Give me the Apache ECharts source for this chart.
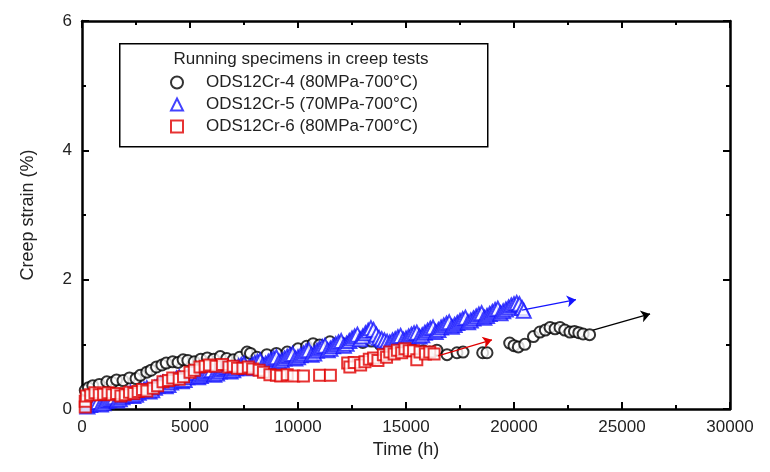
<!DOCTYPE html>
<html><head><meta charset="utf-8">
<script src="https://cdn.jsdelivr.net/npm/echarts@6/dist/echarts.min.js"></script>
<style>html,body{margin:0;padding:0;background:#fff}#c{width:770px;height:472px}</style>
</head><body><div id="c"></div>
<script>
// ---- data ----
const seriesNames = ['ODS12Cr-4 (80MPa-700°C)', 'ODS12Cr-5 (70MPa-700°C)', 'ODS12Cr-6 (80MPa-700°C)'];
const legendTitle = 'Running specimens in creep tests';
const xAxisName = 'Time (h)';
const yAxisName = 'Creep strain (%)';
const xRange = [0, 30000, 5000];
const yRange = [0, 6, 2];

// ODS12Cr-4 (black circles)
const ods4 = [
  [150,0.29],[300,0.33],[500,0.36],[800,0.38],[1150,0.42],[1400,0.41],[1600,0.45],[1900,0.44],
  [2200,0.48],[2500,0.47],[2700,0.52],[3000,0.57],[3200,0.60],[3450,0.65],[3700,0.68],[3900,0.71],
  [4200,0.73],[4450,0.72],[4680,0.76],[4900,0.75],[5200,0.73],[5500,0.77],[5800,0.79],[6100,0.77],
  [6400,0.81],[6700,0.78],[7000,0.76],[7300,0.80],[7640,0.88],[7800,0.86],[8100,0.80],[8560,0.84],
  [9000,0.86],[9500,0.88],[10000,0.93],[10400,0.97],[10700,1.01],[11000,0.99],[11480,1.04],[12000,1.02],
  [12500,1.05],[13000,1.03],[13400,1.05],[13800,1.00],[14300,0.98],[14800,0.95],[15300,0.92],[15800,0.90],
  [16100,0.88],[16430,0.91],[16900,0.84],[17360,0.87],[17640,0.88],[18550,0.87],[18750,0.87],[19800,1.02],
  [20000,0.98],[20200,0.96],[20500,1.00],[20900,1.12],[21200,1.19],[21450,1.22],[21670,1.26],[21900,1.24],
  [22130,1.26],[22350,1.22],[22590,1.19],[22800,1.20],[23000,1.18],[23200,1.16],[23500,1.15]
];
// ODS12Cr-5 (blue triangles)
const ods5 = [
  [250,0.04],[375,0.06],[500,0.08],[625,0.10],[750,0.11],[875,0.07],[1000,0.09],[1125,0.12],
  [1250,0.14],[1375,0.16],[1500,0.18],[1625,0.13],[1750,0.15],[1875,0.18],[2000,0.21],[2125,0.23],
  [2250,0.25],[2375,0.20],[2500,0.22],[2625,0.25],[2750,0.28],[2875,0.30],[3000,0.32],[3125,0.27],
  [3250,0.29],[3375,0.33],[3500,0.36],[3625,0.39],[3750,0.41],[3875,0.35],[4000,0.37],[4125,0.41],
  [4250,0.44],[4375,0.47],[4500,0.49],[4625,0.43],[4750,0.45],[4875,0.49],[5000,0.52],[5125,0.55],
  [5250,0.56],[5375,0.49],[5500,0.51],[5625,0.54],[5750,0.57],[5875,0.59],[6000,0.60],[6125,0.53],
  [6250,0.55],[6375,0.58],[6500,0.61],[6625,0.63],[6750,0.65],[6875,0.58],[7000,0.60],[7125,0.63],
  [7250,0.66],[7375,0.68],[7500,0.70],[7625,0.63],[7750,0.65],[7875,0.68],[8000,0.71],[8125,0.73],
  [8250,0.75],[8375,0.68],[8500,0.70],[8625,0.73],[8750,0.76],[8875,0.78],[9000,0.80],[9125,0.73],
  [9250,0.75],[9375,0.78],[9500,0.81],[9625,0.83],[9750,0.85],[9875,0.78],[10000,0.80],[10125,0.83],
  [10250,0.86],[10375,0.89],[10500,0.91],[10625,0.84],[10750,0.86],[10875,0.90],[11000,0.93],[11125,0.96],
  [11250,0.98],[11375,0.91],[11500,0.93],[11625,0.97],[11750,1.00],[11875,1.03],[12000,1.05],[12125,0.98],
  [12250,1.01],[12375,1.05],[12500,1.09],[12625,1.12],[12750,1.15],[12875,1.08],[13000,1.12],[13125,1.17],
  [13250,1.21],[13375,1.25],[13500,1.22],[13625,1.15],[13750,1.10],[13875,1.08],[14000,1.06],[14125,1.04],
  [14250,1.03],[14375,1.06],[14500,1.08],[14625,1.11],[14750,1.13],[14875,1.07],[15000,1.09],[15125,1.12],
  [15250,1.15],[15375,1.17],[15500,1.18],[15625,1.12],[15750,1.14],[15875,1.18],[16000,1.21],[16125,1.24],
  [16250,1.26],[16375,1.19],[16500,1.22],[16625,1.26],[16750,1.29],[16875,1.32],[17000,1.34],[17125,1.27],
  [17250,1.30],[17375,1.33],[17500,1.36],[17625,1.39],[17750,1.41],[17875,1.34],[18000,1.37],[18125,1.40],
  [18250,1.43],[18375,1.46],[18500,1.48],[18625,1.41],[18750,1.44],[18875,1.47],[19000,1.50],[19125,1.53],
  [19250,1.55],[19375,1.48],[19500,1.51],[19625,1.54],[19750,1.57],[19875,1.60],[20000,1.62],[20125,1.64],
  [20250,1.62],[20375,1.56],[20450,1.52]
];
// ODS12Cr-6 (red squares)
const ods6 = [
  [150,0.03],[150,0.12],[200,0.20],[400,0.22],[600,0.25],[800,0.22],[1000,0.23],[1200,0.25],
  [1400,0.22],[1600,0.24],[1800,0.20],[2000,0.22],[2200,0.26],[2400,0.24],[2600,0.27],[2800,0.30],
  [3000,0.28],[3300,0.32],[3500,0.36],[3750,0.42],[4000,0.44],[4200,0.48],[4500,0.46],[4700,0.50],
  [5000,0.57],[5200,0.60],[5460,0.65],[5700,0.66],[5900,0.68],[6200,0.66],[6500,0.69],[6800,0.65],
  [7000,0.66],[7200,0.63],[7450,0.63],[7700,0.65],[7900,0.62],[8200,0.60],[8400,0.57],[8700,0.53],
  [9000,0.52],[9200,0.51],[9500,0.53],[9800,0.51],[10250,0.51],[11000,0.52],[11500,0.52],[12300,0.71],
  [12400,0.65],[12600,0.72],[12900,0.68],[13100,0.73],[13300,0.77],[13500,0.79],[13700,0.75],[13950,0.84],
  [14100,0.80],[14250,0.88],[14450,0.85],[14600,0.91],[14800,0.87],[14950,0.93],[15150,0.90],[15350,0.90],
  [15500,0.76],[15650,0.88],[15900,0.85],[16100,0.88],[16300,0.85]
];
// extrapolation arrows [start, end]
const arrow4 = [[23660,1.22],[26300,1.47]];
const arrow5 = [[20370,1.53],[22870,1.69]];
const arrow6 = [[16480,0.82],[18980,1.07]];

const colors = ['#000000', '#1414ff', '#e00000'];
const FONT = 'Liberation Sans, Arial, sans-serif';

const chart = echarts.init(document.getElementById('c'), null, {renderer: 'canvas'});

function axisCommon(showLabel) {
  return {
    axisLine: {show: true, onZero: false, lineStyle: {color: '#000', width: 2.5}},
    axisTick: {show: true, inside: true, length: 7, lineStyle: {color: '#000', width: 2}},
    minorTick: {show: true, splitNumber: 2, length: 4, lineStyle: {color: '#000', width: 2}},
    splitLine: {show: false},
    axisLabel: {show: showLabel, color: '#222', fontFamily: FONT, fontSize: 17, margin: 10,
                formatter: function (v) { return String(v); }}
  };
}

const option = {
  backgroundColor: '#fff',
  animation: false,
  grid: {left: 82, right: 40, top: 21, bottom: 63, containLabel: false},
  xAxis: [
    Object.assign(axisCommon(true), {
      type: 'value', min: xRange[0], max: xRange[1], interval: xRange[2], position: 'bottom',
      name: xAxisName, nameLocation: 'middle', nameGap: 21,
      nameTextStyle: {color: '#222', fontFamily: FONT, fontSize: 18}
    }),
    Object.assign(axisCommon(false), {
      type: 'value', min: xRange[0], max: xRange[1], interval: xRange[2], position: 'top'
    })
  ],
  yAxis: [
    Object.assign(axisCommon(true), {
      type: 'value', min: yRange[0], max: yRange[1], interval: yRange[2], position: 'left',
      name: yAxisName, nameLocation: 'middle', nameGap: 45, nameRotate: 90,
      nameTextStyle: {color: '#222', fontFamily: FONT, fontSize: 18}
    }),
    Object.assign(axisCommon(false), {
      type: 'value', min: yRange[0], max: yRange[1], interval: yRange[2], position: 'right'
    })
  ],
  legend: {
    show: true, orient: 'vertical', left: 165, top: 69, itemGap: 5,
    itemWidth: 12, itemHeight: 12,
    data: seriesNames,
    textStyle: {color: '#222', fontFamily: FONT, fontSize: 17, padding: [0, 0, 0, 18]}
  },
  graphic: [
    {type: 'rect', left: 119, top: 43, shape: {width: 368, height: 103}, z: 1,
     style: {fill: '#fff', stroke: '#000', lineWidth: 1.5}},
    {type: 'text', x: 301, y: 51, z: 2,
     style: {text: legendTitle, fill: '#222', font: '17px ' + FONT, textAlign: 'center', textVerticalAlign: 'top'}}
  ],
  series: [
    {name: seriesNames[0], type: 'scatter', data: ods4, symbol: 'emptyCircle', symbolSize: 11,
     itemStyle: {color: colors[0], borderWidth: 1.2}, z: 3},
    {name: seriesNames[1], type: 'scatter', data: ods5, symbol: 'emptyTriangle', symbolSize: 14,
     itemStyle: {color: colors[1], borderWidth: 2.4}, z: 4},
    {name: seriesNames[2], type: 'scatter', data: ods6, symbol: 'emptyRect', symbolSize: 11,
     itemStyle: {color: colors[2], borderWidth: 1.5}, z: 5},
    {type: 'lines', coordinateSystem: 'cartesian2d', z: 6, symbol: ['none', 'arrow'], symbolSize: 9,
     lineStyle: {color: colors[0], width: 1.3, opacity: 1}, data: [{coords: arrow4}]},
    {type: 'lines', coordinateSystem: 'cartesian2d', z: 6, symbol: ['none', 'arrow'], symbolSize: 9,
     lineStyle: {color: colors[1], width: 1.3, opacity: 1}, data: [{coords: arrow5}]},
    {type: 'lines', coordinateSystem: 'cartesian2d', z: 6, symbol: ['none', 'arrow'], symbolSize: 9,
     lineStyle: {color: colors[2], width: 1.3, opacity: 1}, data: [{coords: arrow6}]}
  ]
};
chart.setOption(option);
</script>
</body></html>
